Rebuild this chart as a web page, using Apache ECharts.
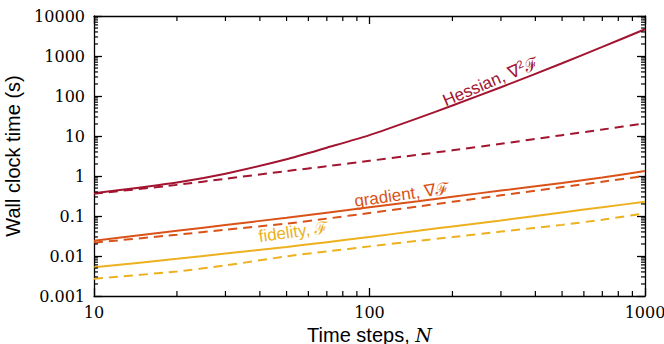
<!DOCTYPE html>
<html>
<head>
<meta charset="utf-8">
<script src="https://cdn.jsdelivr.net/npm/echarts@6/dist/echarts.min.js"></script>
<style>
  html, body { margin: 0; padding: 0; background: #fff; }
  #chart { width: 664px; height: 344px; }
</style>
</head>
<body>
<div id="chart"></div>
<script>
// time steps N
var steps = [10, 20, 30, 50, 70, 100, 150, 200, 300, 500, 700, 1000];

// wall clock time (s)
var hessian      = [0.37, 0.69, 1.14, 2.62, 5.1, 10.5, 28, 58, 165, 660, 1690, 4670];
var hessianDash  = [0.36, 0.6, 0.85, 1.33, 1.75, 2.4, 3.4, 4.4, 6.4, 10.5, 14.5, 20.8];
var gradient     = [0.0241, 0.0425, 0.0594, 0.0907, 0.121, 0.165, 0.234, 0.303, 0.433, 0.67, 0.92, 1.33];
var gradientDash = [0.0215, 0.034, 0.0453, 0.0645, 0.086, 0.1185, 0.173, 0.227, 0.328, 0.53, 0.722, 1.0];
var fidelity     = [0.0052, 0.0085, 0.0115, 0.0168, 0.0222, 0.030, 0.0426, 0.055, 0.0776, 0.123, 0.165, 0.228];
var fidelityDash = [0.0027, 0.0041, 0.0058, 0.0098, 0.013, 0.0174, 0.024, 0.0297, 0.0407, 0.06, 0.081, 0.117];

var xTickLabels = ['10', '100', '1000'];
var yTickLabels = ['0.001', '0.01', '0.1', '1', '10', '100', '1000', '10000'];

var RED = '#A2142F', ORANGE = '#D95319', YELLOW = '#EDB120';

function pairs(ys) {
  return steps.map(function (n, i) { return [n, ys[i]]; });
}

// minor tick positions 2..9 x 10^k
var xMinor = [], yMinor = [];
for (var k = 1; k < 3; k++) for (var m = 2; m < 10; m++) xMinor.push(m * Math.pow(10, k));
for (var j = -3; j < 4; j++) for (var m2 = 2; m2 < 10; m2++) yMinor.push(+(m2 * Math.pow(10, j)).toPrecision(3));

// svg renderer: avoids the canvas losing the short tick strokes
var chart = echarts.init(document.getElementById('chart'), null, { renderer: 'svg' });

var serifLabel = { fontFamily: 'DejaVu Serif', fontSize: 16, color: '#000' };
function axisLine() { return { show: true, lineStyle: { color: '#000', width: 1.3 } }; }
function majorTick() { return { show: true, inside: true, length: 8, lineStyle: { color: '#000', width: 1.3 } }; }

function lineSeries(data, color, dashed) {
  return {
    type: 'line',
    data: pairs(data),
    smooth: 0.2,
    showSymbol: false,
    silent: true,
    lineStyle: { color: color, width: 2, type: dashed ? [9, 6] : 'solid' }
  };
}

function curveLabel(coord, rotate, color, text) {
  return {
    symbol: 'circle',
    symbolSize: 0,
    silent: true,
    data: [{ coord: coord }],
    label: {
      show: true,
      position: 'inside',
      rotate: rotate,
      formatter: text,
      color: color,
      fontFamily: 'Liberation Sans',
      fontSize: 17,
      rich: {
        sup: { fontSize: 11, color: color, padding: [0, 0, 9, 0], fontFamily: 'Liberation Sans' },
        f: { fontSize: 17, color: color, fontFamily: 'DejaVu Serif' }
      }
    }
  };
}

var hSeries = lineSeries(hessian, RED, false);
hSeries.markPoint = curveLabel([275, 230], 23, RED, 'Hessian, \u2207{sup|2}{f|\u2131}');
var gSeries = lineSeries(gradient, ORANGE, false);
gSeries.markPoint = curveLabel([131, 0.34], 8, ORANGE, 'gradient, \u2207{f|\u2131}');
var fSeries = lineSeries(fidelity, YELLOW, false);
fSeries.markPoint = curveLabel([53, 0.04], 8, YELLOW, 'fidelity, {f|\u2131}');

chart.setOption({
  animation: false,
  grid: { left: 94, right: 19, top: 16, bottom: 48, containLabel: false, outerBoundsMode: 'none' },
  xAxis: [{
    type: 'log', logBase: 10, min: 10, max: 1000, interval: 1,
    position: 'bottom',
    name: 'Time steps, {i|N}', nameLocation: 'middle', nameGap: 22,
    nameTextStyle: {
      fontFamily: 'Liberation Sans', fontSize: 20, color: '#000',
      rich: { i: { fontFamily: 'DejaVu Serif', fontStyle: 'italic', fontSize: 19, color: '#000' } }
    },
    axisLine: axisLine(), axisTick: majorTick(),
    axisLabel: Object.assign({ margin: 8, formatter: function (v) {
      return xTickLabels[Math.round(Math.log10(v)) - 1];
    } }, serifLabel),
    splitLine: { show: false }
  }, {
    type: 'log', logBase: 10, min: 10, max: 1000, interval: 1,
    position: 'top',
    axisLine: axisLine(), axisTick: majorTick(),
    axisLabel: { show: false }, splitLine: { show: false }
  }],
  yAxis: [{
    type: 'log', logBase: 10, min: 0.001, max: 10000, interval: 1,
    position: 'left',
    name: 'Wall clock time (s)', nameLocation: 'middle', nameGap: 62,
    nameTextStyle: { fontFamily: 'Liberation Sans', fontSize: 20, color: '#000' },
    axisLine: axisLine(), axisTick: majorTick(),
    axisLabel: Object.assign({ margin: 9, formatter: function (v) {
      return yTickLabels[Math.round(Math.log10(v)) + 3];
    } }, serifLabel),
    splitLine: { show: false }
  }, {
    type: 'log', logBase: 10, min: 0.001, max: 10000, interval: 1,
    position: 'right',
    axisLine: axisLine(), axisTick: majorTick(),
    axisLabel: { show: false }, splitLine: { show: false }
  }],
  series: [
    hSeries,
    lineSeries(hessianDash, RED, true),
    gSeries,
    lineSeries(gradientDash, ORANGE, true),
    fSeries,
    lineSeries(fidelityDash, YELLOW, true),
    {
      // minor ticks on left and right
      type: 'custom', silent: true, z: 4,
      data: yMinor.map(function (v) { return [10, v]; }),
      renderItem: function (params, api) {
        var a = api.coord([10, api.value(1)]);
        var b = api.coord([1000, api.value(1)]);
        var st = { stroke: '#000', lineWidth: 1.2 };
        return { type: 'group', children: [
          { type: 'line', shape: { x1: a[0], y1: a[1], x2: a[0] + 4, y2: a[1] }, style: st },
          { type: 'line', shape: { x1: b[0], y1: b[1], x2: b[0] - 4, y2: b[1] }, style: st }
        ] };
      }
    },
    {
      // minor ticks on bottom and top
      type: 'custom', silent: true, z: 4,
      data: xMinor.map(function (v) { return [v, 1]; }),
      renderItem: function (params, api) {
        var a = api.coord([api.value(0), 0.001]);
        var b = api.coord([api.value(0), 10000]);
        var st = { stroke: '#000', lineWidth: 1.2 };
        return { type: 'group', children: [
          { type: 'line', shape: { x1: a[0], y1: a[1], x2: a[0], y2: a[1] - 5 }, style: st },
          { type: 'line', shape: { x1: b[0], y1: b[1], x2: b[0], y2: b[1] + 5 }, style: st }
        ] };
      }
    }
  ]
});
</script>
</body>
</html>
